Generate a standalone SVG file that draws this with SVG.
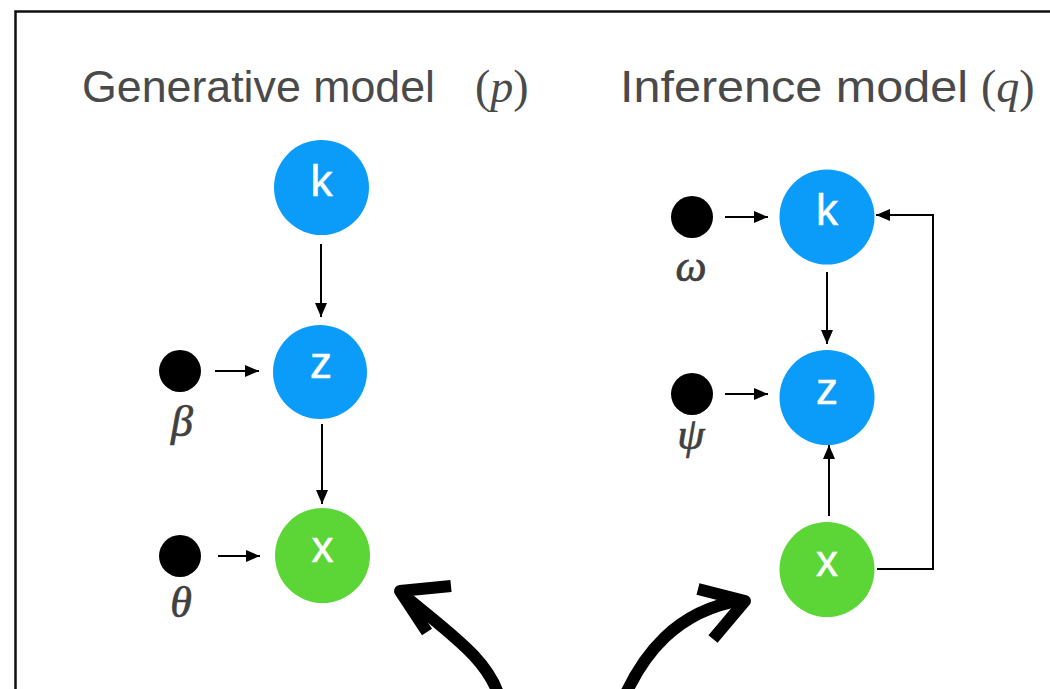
<svg xmlns="http://www.w3.org/2000/svg" width="1050" height="689" viewBox="0 0 1050 689">
<style>
.title{font-family:"Liberation Sans",Arial,sans-serif;font-size:45px;fill:#4a4a4a}
.math{font-family:"Liberation Serif","Times New Roman",serif;font-size:46px;fill:#4a4a4a}
.greek{font-family:"Liberation Serif","Times New Roman",serif;font-style:italic;font-size:44px;fill:#404040;stroke:#404040;stroke-width:0.7;text-anchor:middle}
.blue{fill:#0a9cf8}
.green{fill:#5cd637}
.lbl{font-family:"Liberation Sans",Arial,sans-serif;font-size:44px;fill:#ffffff;stroke:#ffffff;stroke-width:0.5;text-anchor:middle}
.dot{fill:#000}
.edge{stroke:#000;stroke-width:2;fill:none;marker-end:url(#ah)}
.big{stroke:#000;stroke-width:12;fill:none;stroke-linejoin:round}
</style>
<defs>
<marker id="ah" markerUnits="userSpaceOnUse" markerWidth="14" markerHeight="12" refX="14" refY="6" orient="auto">
<path d="M0,0 L14,6 L0,12 z" fill="#000"/>
</marker>
</defs>
<rect x="15.5" y="11.5" width="1100" height="720" fill="#fff" stroke="#111" stroke-width="2.5"/>
<g id="titles">
<text class="title" x="82" y="102" textLength="353" lengthAdjust="spacingAndGlyphs">Generative model</text>
<text class="math" x="475" y="102">(<tspan font-style="italic">p</tspan>)</text>
<text class="title" x="620" y="102" textLength="348" lengthAdjust="spacingAndGlyphs">Inference model</text>
<text class="math" x="981" y="102">(<tspan font-style="italic">q</tspan>)</text>
</g>
<g id="connectors">
<path class="edge" d="M321,244 L321,317"/>
<path class="edge" d="M322,424 L322,504"/>
<path class="edge" d="M215,371 L259,371"/>
<path class="edge" d="M218,556 L260,556"/>
<path class="edge" d="M725,217 L768,217"/>
<path class="edge" d="M725,394 L768,394"/>
<path class="edge" d="M827,272 L827,344"/>
<path class="edge" d="M829,516 L829,445"/>
<path class="edge" d="M877,569 L933,569 L933,215 L876,215"/>
<path class="big" d="M500,700 C490,660 450,634 405,596"/>
<path class="big" d="M451,586 L400,591 L427,632"/>
<path class="big" d="M615,720 C640,650 680,610 742,600"/>
<path class="big" d="M698,589 L745,601 L713,639"/>
</g>
<g id="gen-k"><circle class="blue" cx="321.5" cy="187.5" r="47.5"/><text class="lbl" x="321.5" y="196">k</text></g>
<g id="gen-z"><circle class="blue" cx="320" cy="372" r="47"/><text class="lbl" x="321" y="378">z</text></g>
<g id="gen-x"><circle class="green" cx="322.5" cy="555.5" r="47.5"/><text class="lbl" x="322.5" y="562">x</text></g>
<g id="gen-beta"><circle class="dot" cx="180" cy="371" r="21"/><text class="greek" x="182" y="436">β</text></g>
<g id="gen-theta"><circle class="dot" cx="180" cy="556" r="21"/><text class="greek" x="181" y="617">θ</text></g>
<g id="inf-k"><circle class="blue" cx="827" cy="217" r="47.5"/><text class="lbl" x="827" y="225">k</text></g>
<g id="inf-z"><circle class="blue" cx="827" cy="397.5" r="47.5"/><text class="lbl" x="827" y="404">z</text></g>
<g id="inf-x"><circle class="green" cx="827" cy="569.5" r="47.5"/><text class="lbl" x="827" y="576">x</text></g>
<g id="inf-omega"><circle class="dot" cx="692" cy="217" r="21"/><text class="greek" x="691" y="281">ω</text></g>
<g id="inf-psi"><circle class="dot" cx="692" cy="394" r="21"/><text class="greek" x="691" y="449">ψ</text></g>
</svg>
